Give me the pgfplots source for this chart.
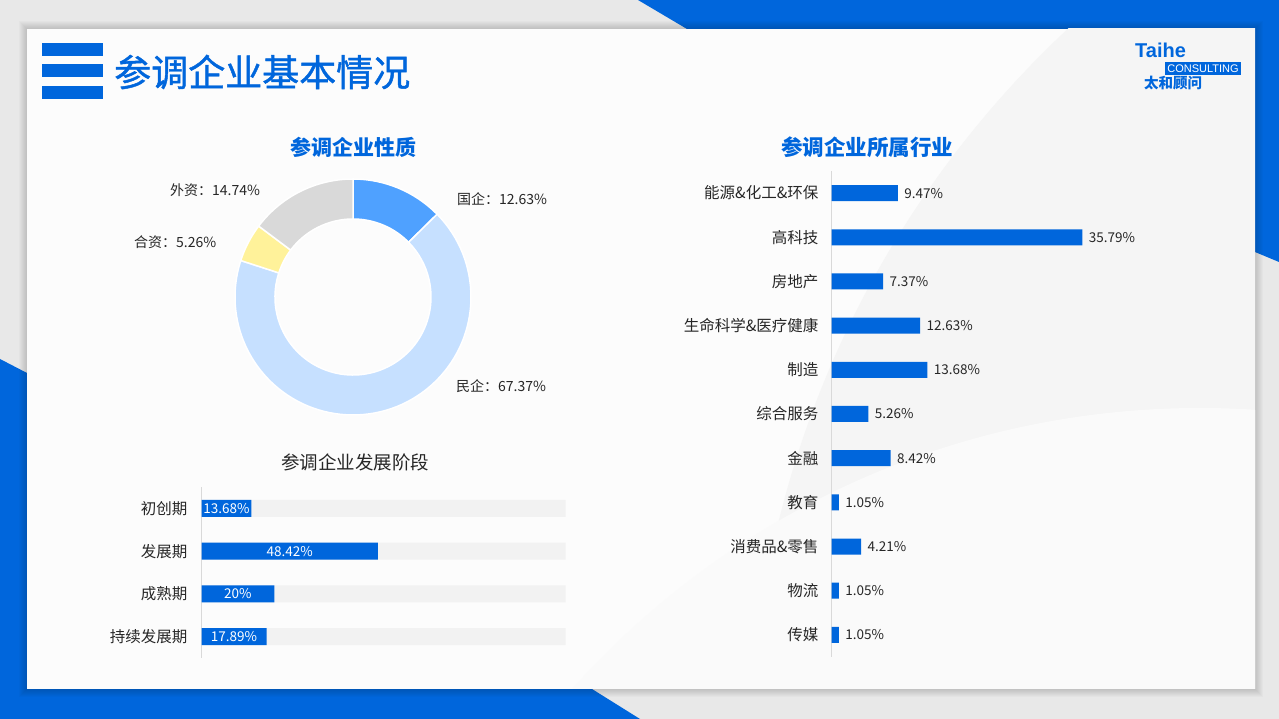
\documentclass[border=0pt]{standalone}
\usepackage{pgfplots}
\pgfplotsset{compat=1.18}
\usepackage{pgfplotstable}
\usepackage{fontspec}
\setmainfont{Noto Sans CJK SC}
\newfontfamily\latinsans{Liberation Sans}
\newfontfamily\titlefont[FakeBold=1.2]{Noto Sans CJK SC}

\definecolor{tblue}{HTML}{0066DC}
\definecolor{sliceA}{HTML}{4FA1FF}
\definecolor{sliceB}{HTML}{C6E0FF}
\definecolor{sliceC}{HTML}{FFF29A}
\definecolor{sliceD}{HTML}{D9D9D9}
\definecolor{txt}{HTML}{262626}
\definecolor{track}{HTML}{F2F2F2}
\definecolor{axline}{HTML}{D9D9D9}

% 参调企业性质 (share, %)
\pgfplotstableread{
v
12.63
67.37
5.26
14.74
}\naturetable

% 参调企业发展阶段
\pgfplotstableread{
i v
0 13.68
1 48.42
2 20
3 17.89
}\stagetable

% 参调企业所属行业
\pgfplotstableread{
i v
0 9.47
1 35.79
2 7.37
3 12.63
4 13.68
5 5.26
6 8.42
7 1.05
8 4.21
9 1.05
10 1.05
}\industrytable

% slice angles, clockwise from 12 o'clock
\pgfplotstablegetelem{0}{v}\of\naturetable\pgfmathsetmacro\eA{90-3.6*\pgfplotsretval}
\pgfplotstablegetelem{1}{v}\of\naturetable\pgfmathsetmacro\eB{\eA-3.6*\pgfplotsretval}
\pgfplotstablegetelem{2}{v}\of\naturetable\pgfmathsetmacro\eC{\eB-3.6*\pgfplotsretval}
\pgfplotstablegetelem{3}{v}\of\naturetable\pgfmathsetmacro\eD{\eC-3.6*\pgfplotsretval}

\newcommand\slice[3]{% color, start, end
  \filldraw[#1, draw=white, line width=1.5pt] (axis cs:0,0) ++(#2:118pt)
    arc[start angle=#2, end angle=#3, radius=118pt] -- ++({#3+180}:40pt)
    arc[start angle=#3, end angle=#2, radius=78pt] -- cycle;}

\begin{document}
\begin{tikzpicture}
\begin{scope}[x=1pt, y=1pt]
% page background and decoration
\fill[black!9] (0,0) rectangle (1279,719);
\fill[tblue] (638,719) -- (1279,719) -- (1279,457) -- (1255,467) -- (1255,690) -- (687,690) -- cycle;
\fill[tblue] (0,360) -- (27,346) -- (27,30) -- (592,30) -- (640,0) -- (0,0) -- cycle;
\foreach \k in {1,...,8}
  \fill[black, opacity=0.018] (27-\k,30-\k) rectangle (1255+\k,690+\k);
\begin{scope}
  \clip (27,30) rectangle (1255,690);
  \fill[white!99!black] (27,30) rectangle (1255,690);
  \fill[white!96!black] (1750,-41) circle (1000pt);
  \fill[white!98!black] (1200,-531) circle (842pt);
\end{scope}

% header
\fill[tblue] (42,663) rectangle (103,676);
\fill[tblue] (42,642) rectangle (103,655);
\fill[tblue] (42,620) rectangle (103,633);
\node[anchor=west, inner sep=0pt, text=tblue, font=\titlefont\fontsize{37}{38}\selectfont] at (114,647) {参调企业基本情况};

% logo
\node[anchor=base west, inner sep=0pt, text=tblue, font=\latinsans\bfseries\fontsize{20}{20}\selectfont] at (1135,661) {Taihe};
\fill[tblue] (1165,644) rectangle (1241,657);
\node[anchor=center, inner sep=0pt, text=white, font=\latinsans\fontsize{11}{11}\selectfont] at (1203,650.5) {CONSULTING};
\node[anchor=west, inner sep=0pt, text=tblue, font=\bfseries\fontsize{14.5}{15}\selectfont] at (1144,636) {太和顾问};

% chart titles
\node[text=tblue, font=\bfseries\fontsize{21}{22}\selectfont] at (353,572) {参调企业性质};
\node[text=tblue, font=\bfseries\fontsize{21.5}{22}\selectfont] at (867,572) {参调企业所属行业};
\node[text=txt, font=\fontsize{18.5}{19}\selectfont] at (355,257) {参调企业发展阶段};

% donut labels
\begin{scope}[every node/.style={anchor=west, inner sep=0pt, text=txt, font=\fontsize{14}{15}\selectfont}]
\node at (457,520) {国企：12.63\%};
\node at (456,333) {民企：67.37\%};
\node at (134,477) {合资：5.26\%};
\node at (170,529) {外资：14.74\%};
\end{scope}
\end{scope}

% donut
\begin{axis}[
    at={(353pt,422pt)}, anchor=center,
    scale only axis, width=236pt, height=236pt,
    xmin=-1, xmax=1, ymin=-1, ymax=1,
    hide axis, clip=false,
]
\slice{sliceA}{90}{\eA}
\slice{sliceB}{\eA}{\eB}
\slice{sliceC}{\eB}{\eC}
\slice{sliceD}{\eC}{\eD}
\end{axis}

% development stage
\begin{axis}[
    at={(201.5pt,61pt)}, anchor=south west,
    scale only axis, width=364pt, height=171pt,
    xmin=0, xmax=100, ymin=-0.5, ymax=3.5, y dir=reverse,
    axis x line=none, axis y line=left,
    y axis line style={-, draw=axline, line width=1.2pt},
    ytick={0,1,2,3},
    yticklabels={初创期,发展期,成熟期,持续发展期},
    major tick length=0pt,
    yticklabel style={font=\fontsize{15.5}{16}\selectfont, text=txt, inner sep=0pt, xshift=-14pt},
    clip=false,
]
\addplot[xbar, bar width=17pt, bar shift=0pt, fill=track, draw=none]
  coordinates {(100,0) (100,1) (100,2) (100,3)};
\addplot[xbar, bar width=17pt, bar shift=0pt, fill=tblue, draw=none]
  table[x=v, y=i] {\stagetable};
\addplot[xbar, bar width=17pt, bar shift=0pt, fill=none, draw=none,
    point meta=explicit symbolic,
    nodes near coords={\pgfplotspointmeta\%},
    every node near coord/.append style={anchor=center, text=white, font=\fontsize{13.5}{14}\selectfont}]
  table[x expr=\thisrow{v}/2, y=i, meta=v] {\stagetable};
\end{axis}

% industry
\begin{axis}[
    at={(831.5pt,62pt)}, anchor=south west,
    scale only axis, width=280.4pt, height=486pt,
    xmin=0, xmax=40, ymin=-0.5, ymax=10.5, y dir=reverse,
    axis x line=none, axis y line=left,
    y axis line style={-, draw=axline, line width=1.2pt},
    ytick={0,...,10},
    yticklabels={能源\&化工\&环保,高科技,房地产,生命科学\&医疗健康,制造,综合服务,金融,教育,消费品\&零售,物流,传媒},
    major tick length=0pt,
    yticklabel style={font=\fontsize{15.5}{16}\selectfont, text=txt, inner sep=0pt, xshift=-13pt},
    xbar, bar width=16pt,
    point meta=explicit symbolic,
    nodes near coords={\pgfplotspointmeta\%},
    every node near coord/.append style={anchor=west, font=\fontsize{13.5}{14}\selectfont, text=txt, xshift=3pt},
    clip=false,
]
\addplot[fill=tblue, draw=none] table[x=v, y=i, meta=v] {\industrytable};
\end{axis}

\pgfresetboundingbox
\useasboundingbox (0,0) rectangle (1279pt,719pt);
\end{tikzpicture}
\end{document}
